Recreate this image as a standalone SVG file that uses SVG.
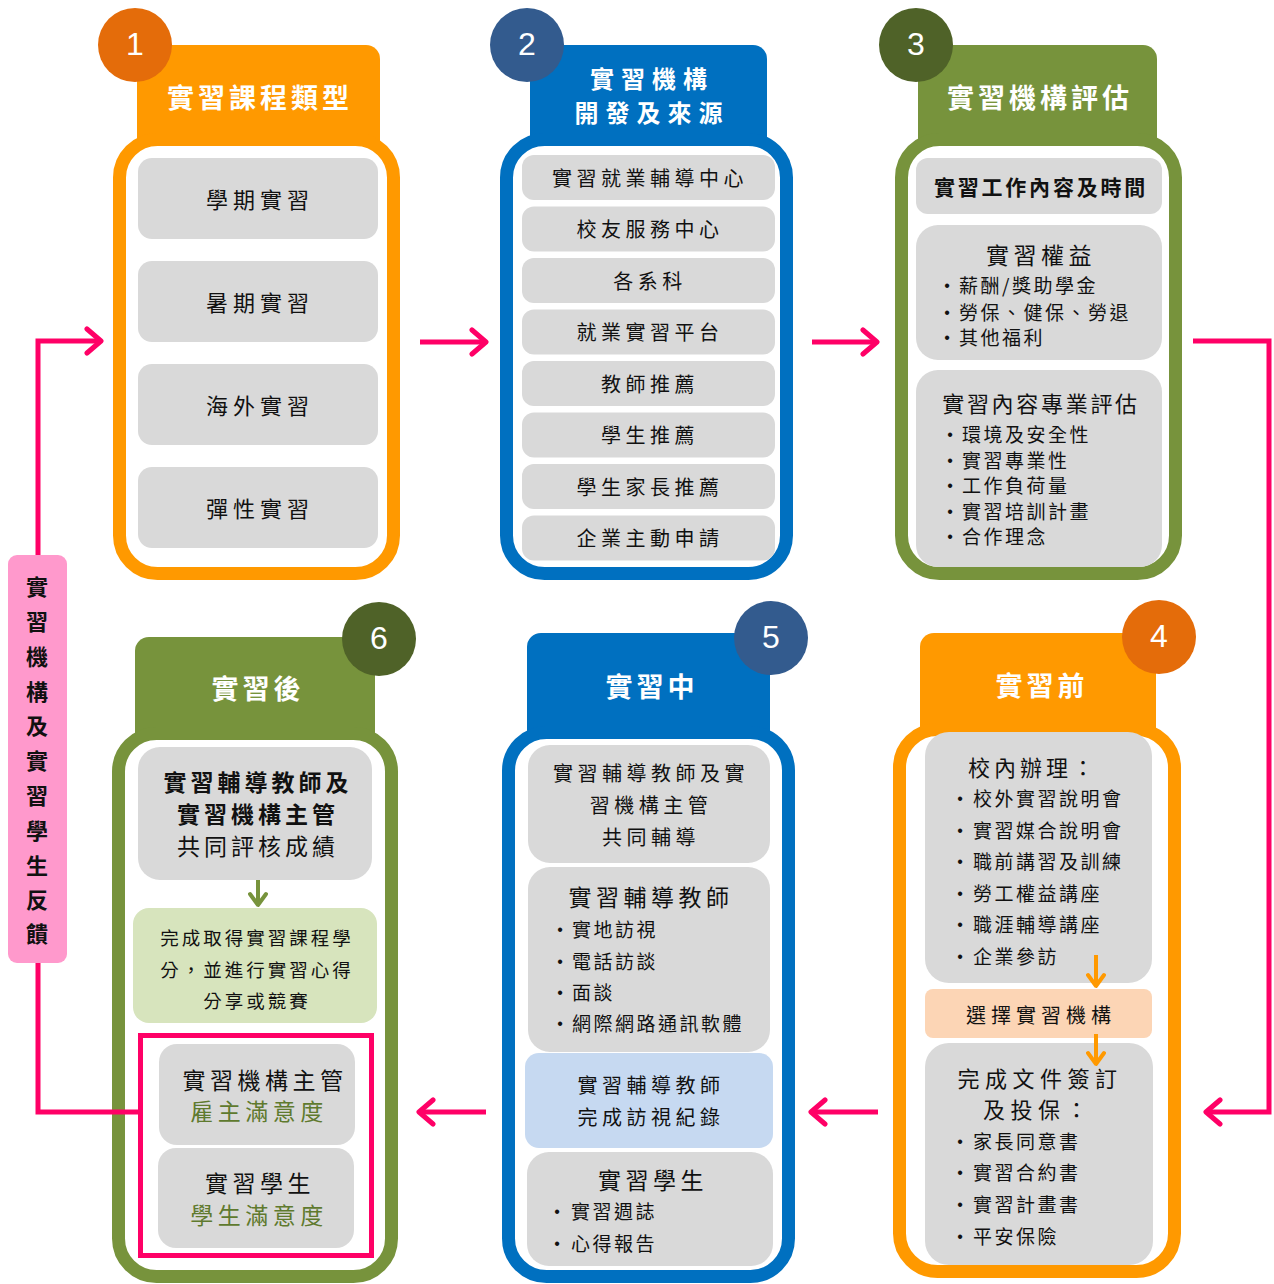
<svg xmlns="http://www.w3.org/2000/svg" width="1274" height="1284" viewBox="0 0 1274 1284">
<style>
.t{font-family:"Noto Sans CJK TC","Noto Sans CJK SC",sans-serif;dominant-baseline:central;fill:#111}
.hd{fill:#fff;font-size:27px;font-weight:bold;letter-spacing:4px;text-anchor:middle}
.num{font-family:"Liberation Sans",sans-serif;font-size:32px;fill:#fff;text-anchor:middle;dominant-baseline:central}
.c{text-anchor:middle}
.i1{font-size:22px;letter-spacing:5px}
.i2{font-size:20px;letter-spacing:4.5px}
.tt{font-size:23px;letter-spacing:4.5px}
.b{font-size:19px;letter-spacing:2.5px}
.dot{font-family:"Liberation Sans",sans-serif;font-size:16px;fill:#111;text-anchor:middle;dominant-baseline:central}
.bd{font-weight:bold}
.gr{fill:#5F7A2E}
.gbox{fill:#D9D9D9}
.or{fill:#FF9900}.orS{stroke:#FF9900}
.bl{fill:#0070C0}.blS{stroke:#0070C0}
.gn{fill:#77933C}.gnS{stroke:#77933C}
.body{fill:#fff;stroke-width:13}
.con{fill:none;stroke:#FF0066;stroke-width:5;marker-end:url(#ah)}
</style>
<defs>
<marker id="ah" viewBox="0 0 22 30" refX="18" refY="15" markerWidth="22" markerHeight="30" markerUnits="userSpaceOnUse" orient="auto">
<path d="M4,3 L18,15 L4,27" fill="none" stroke="#FF0066" stroke-width="5" stroke-linecap="round" stroke-linejoin="round"/>
</marker>
<marker id="ahO" viewBox="0 0 20 20" refX="15" refY="10" markerWidth="20" markerHeight="20" markerUnits="userSpaceOnUse" orient="auto">
<path d="M4,2 L15,10 L4,18" fill="none" stroke="#FF9900" stroke-width="4" stroke-linecap="round" stroke-linejoin="round"/>
</marker>
<marker id="ahG" viewBox="0 0 20 20" refX="15" refY="10" markerWidth="20" markerHeight="20" markerUnits="userSpaceOnUse" orient="auto">
<path d="M4,2 L15,10 L4,18" fill="none" stroke="#77933C" stroke-width="4" stroke-linecap="round" stroke-linejoin="round"/>
</marker>
</defs>
<rect width="1274" height="1284" fill="#fff"/>

<!-- Panel 1 -->
<g id="node1">
<rect class="or" x="137" y="45" width="243" height="120" rx="14"/>
<rect class="body orS" x="119.5" y="139.5" width="274" height="434" rx="38"/>
<text class="t hd" x="260" y="96">實習課程類型</text>
<rect class="gbox" x="138" y="158" width="240" height="81" rx="14"/>
<rect class="gbox" x="138" y="261" width="240" height="81" rx="14"/>
<rect class="gbox" x="138" y="364" width="240" height="81" rx="14"/>
<rect class="gbox" x="138" y="467" width="240" height="81" rx="14"/>
<text class="t i1 c" x="260" y="198">學期實習</text>
<text class="t i1 c" x="260" y="301">暑期實習</text>
<text class="t i1 c" x="260" y="404">海外實習</text>
<text class="t i1 c" x="260" y="507">彈性實習</text>
<circle cx="135" cy="45" r="37" fill="#E46C0A"/>
<text class="num" x="135" y="44">1</text>
</g>

<!-- Panel 2 -->
<g id="node2">
<rect class="bl" x="530" y="45" width="237" height="120" rx="14"/>
<rect class="body blS" x="506.5" y="139.5" width="280" height="434" rx="38"/>
<text class="t hd" x="652" y="77.5" style="font-size:24px;letter-spacing:7px">實習機構</text>
<text class="t hd" x="652" y="111" style="font-size:24px;letter-spacing:7px">開發及來源</text>
<rect class="gbox" x="522" y="155" width="253" height="45" rx="12"/>
<rect class="gbox" x="522" y="206.5" width="253" height="45" rx="12"/>
<rect class="gbox" x="522" y="258" width="253" height="45" rx="12"/>
<rect class="gbox" x="522" y="309.5" width="253" height="45" rx="12"/>
<rect class="gbox" x="522" y="361" width="253" height="45" rx="12"/>
<rect class="gbox" x="522" y="412.5" width="253" height="45" rx="12"/>
<rect class="gbox" x="522" y="464" width="253" height="45" rx="12"/>
<rect class="gbox" x="522" y="515.5" width="253" height="45" rx="12"/>
<text class="t i2 c" x="650" y="177">實習就業輔導中心</text>
<text class="t i2 c" x="650" y="228.5">校友服務中心</text>
<text class="t i2 c" x="650" y="280">各系科</text>
<text class="t i2 c" x="650" y="331.5">就業實習平台</text>
<text class="t i2 c" x="650" y="383">教師推薦</text>
<text class="t i2 c" x="650" y="434.5">學生推薦</text>
<text class="t i2 c" x="650" y="486">學生家長推薦</text>
<text class="t i2 c" x="650" y="537.5">企業主動申請</text>
<circle cx="527" cy="45" r="37" fill="#335B8E"/>
<text class="num" x="527" y="44">2</text>
</g>

<!-- Panel 3 -->
<g id="node3">
<rect class="gn" x="918" y="45" width="239" height="120" rx="14"/>
<rect class="body gnS" x="901.5" y="139.5" width="274" height="434" rx="38"/>
<text class="t hd" x="1040" y="96">實習機構評估</text>
<rect class="gbox" x="916" y="158" width="246" height="56" rx="12"/>
<rect class="gbox" x="916" y="225" width="246" height="135" rx="22"/>
<rect class="gbox" x="916" y="370" width="246" height="197" rx="22"/>
<text class="t bd c" x="1041" y="186" style="font-size:21px;letter-spacing:2.8px">實習工作內容及時間</text>
<text class="t tt c" x="1041" y="254">實習權益</text>
<text class="dot" x="947" y="285">•</text><text class="t b" x="959" y="284">薪酬/獎助學金</text>
<text class="dot" x="947" y="312">•</text><text class="t b" x="959" y="311">勞保、健保、勞退</text>
<text class="dot" x="947" y="337">•</text><text class="t b" x="959" y="336">其他福利</text>
<text class="t c" x="1041" y="402" style="font-size:22px;letter-spacing:2.7px">實習內容專業評估</text>
<text class="dot" x="950" y="434">•</text><text class="t b" x="962" y="433">環境及安全性</text>
<text class="dot" x="950" y="460">•</text><text class="t b" x="962" y="459">實習專業性</text>
<text class="dot" x="950" y="485">•</text><text class="t b" x="962" y="484">工作負荷量</text>
<text class="dot" x="950" y="511">•</text><text class="t b" x="962" y="510">實習培訓計畫</text>
<text class="dot" x="950" y="536">•</text><text class="t b" x="962" y="535">合作理念</text>
<circle cx="916" cy="45" r="37" fill="#4F6228"/>
<text class="num" x="916" y="44">3</text>
</g>

<!-- Panel 4 -->
<g id="node4">
<rect class="or" x="920" y="633" width="236" height="120" rx="14"/>
<rect class="body orS" x="899.5" y="729.5" width="275" height="542" rx="38"/>
<text class="t hd" x="1042" y="684">實習前</text>
<rect class="gbox" x="925" y="732" width="227" height="251" rx="24"/>
<rect x="925" y="989" width="227" height="49" rx="8" fill="#FCD5B5"/>
<rect class="gbox" x="925" y="1043" width="228" height="222" rx="24"/>
<text class="t" x="968" y="766" style="font-size:22px;letter-spacing:4px">校內辦理：</text>
<text class="dot" x="960" y="798">•</text><text class="t b" x="973" y="797">校外實習說明會</text>
<text class="dot" x="960" y="830">•</text><text class="t b" x="973" y="829">實習媒合說明會</text>
<text class="dot" x="960" y="861">•</text><text class="t b" x="973" y="860">職前講習及訓練</text>
<text class="dot" x="960" y="893">•</text><text class="t b" x="973" y="892">勞工權益講座</text>
<text class="dot" x="960" y="924">•</text><text class="t b" x="973" y="923">職涯輔導講座</text>
<text class="dot" x="960" y="956">•</text><text class="t b" x="973" y="955">企業參訪</text>
<text class="t i2 c" x="1041" y="1014" style="letter-spacing:5px">選擇實習機構</text>
<text class="t c" x="1040" y="1077" style="font-size:22px;letter-spacing:5.5px">完成文件簽訂</text>
<text class="t c" x="1038" y="1108" style="font-size:22px;letter-spacing:5.5px">及投保：</text>
<text class="dot" x="960" y="1141">•</text><text class="t b" x="973" y="1140">家長同意書</text>
<text class="dot" x="960" y="1172">•</text><text class="t b" x="973" y="1171">實習合約書</text>
<text class="dot" x="960" y="1204">•</text><text class="t b" x="973" y="1203">實習計畫書</text>
<text class="dot" x="960" y="1236">•</text><text class="t b" x="973" y="1235">平安保險</text>
<path d="M1096,955 V986" fill="none" stroke="#FF9900" stroke-width="4" marker-end="url(#ahO)"/>
<path d="M1096,1034 V1064" fill="none" stroke="#FF9900" stroke-width="4" marker-end="url(#ahO)"/>
<circle cx="1159" cy="637" r="37" fill="#E46C0A"/>
<text class="num" x="1159" y="636">4</text>
</g>

<!-- Panel 5 -->
<g id="node5">
<rect class="bl" x="527" y="633" width="243" height="120" rx="14"/>
<rect class="body blS" x="508.5" y="732.5" width="280" height="544" rx="38"/>
<text class="t hd" x="652" y="685">實習中</text>
<rect class="gbox" x="528" y="745" width="242" height="118" rx="22"/>
<rect class="gbox" x="528" y="867" width="242" height="185" rx="22"/>
<rect x="525" y="1053" width="248" height="95" rx="14" fill="#C6D9F1"/>
<rect class="gbox" x="527" y="1152" width="246" height="114" rx="22"/>
<text class="t i2 c" x="651" y="772">實習輔導教師及實</text>
<text class="t i2 c" x="651" y="804">習機構主管</text>
<text class="t i2 c" x="651" y="836">共同輔導</text>
<text class="t tt c" x="651" y="896">實習輔導教師</text>
<text class="dot" x="560" y="929">•</text><text class="t b" x="572" y="928">實地訪視</text>
<text class="dot" x="560" y="961">•</text><text class="t b" x="572" y="960">電話訪談</text>
<text class="dot" x="560" y="992">•</text><text class="t b" x="572" y="991">面談</text>
<text class="dot" x="560" y="1023">•</text><text class="t b" x="572" y="1022">網際網路通訊軟體</text>
<text class="t i2 c" x="651" y="1084">實習輔導教師</text>
<text class="t i2 c" x="651" y="1116">完成訪視紀錄</text>
<text class="t tt c" x="653" y="1179">實習學生</text>
<text class="dot" x="557" y="1211">•</text><text class="t b" x="571" y="1210">實習週誌</text>
<text class="dot" x="557" y="1243">•</text><text class="t b" x="571" y="1242">心得報告</text>
<circle cx="771" cy="638" r="37" fill="#335B8E"/>
<text class="num" x="771" y="637">5</text>
</g>

<!-- Panel 6 -->
<g id="node6">
<rect class="gn" x="135" y="637" width="240" height="120" rx="14"/>
<rect class="body gnS" x="118.5" y="733.5" width="273" height="543" rx="38"/>
<text class="t hd" x="258" y="687">實習後</text>
<rect class="gbox" x="138" y="747" width="234" height="133" rx="22"/>
<rect x="133" y="908" width="244" height="115" rx="16" fill="#D7E4BD"/>
<text class="t tt bd c" x="258" y="781" style="letter-spacing:4px">實習輔導教師及</text>
<text class="t tt bd c" x="258" y="813" style="letter-spacing:4px">實習機構主管</text>
<text class="t tt c" x="258" y="845" style="letter-spacing:4px">共同評核成績</text>
<path d="M258,880 V905" fill="none" stroke="#77933C" stroke-width="4" marker-end="url(#ahG)"/>
<text class="t c" x="257" y="937" style="font-size:18.5px;letter-spacing:3px">完成取得實習課程學</text>
<text class="t c" x="257" y="969" style="font-size:18.5px;letter-spacing:3px">分，並進行實習心得</text>
<text class="t c" x="257" y="1000" style="font-size:18.5px;letter-spacing:3px">分享或競賽</text>
<rect x="140.5" y="1035.5" width="231" height="220" fill="#fff" stroke="#FF0066" stroke-width="5"/>
<rect class="gbox" x="159" y="1044" width="196" height="101" rx="18"/>
<rect class="gbox" x="158" y="1148" width="196" height="100" rx="18"/>
<text class="t tt c" x="265" y="1079">實習機構主管</text>
<text class="t tt c gr" x="259" y="1110">雇主滿意度</text>
<text class="t tt c" x="260" y="1182">實習學生</text>
<text class="t tt c gr" x="259" y="1214">學生滿意度</text>
<circle cx="379" cy="639" r="37" fill="#4F6228"/>
<text class="num" x="379" y="638">6</text>
</g>

<!-- Connectors -->
<g id="connectors">
<path class="con" d="M420,342 H486"/>
<path class="con" d="M812,342 H877"/>
<path class="con" d="M1193,341 H1269 V1112 H1206"/>
<path class="con" d="M878,1112 H811"/>
<path class="con" d="M486,1112 H419"/>
<path class="con" d="M138,1112 H38 V341 H101"/>
</g>

<g id="feedback-label">
<rect x="8" y="555" width="59" height="408" rx="9" fill="#FF99CC"/>
<text class="t" style="font-size:22px;font-weight:bold;text-anchor:middle">
<tspan x="37" y="585">實</tspan><tspan x="37" y="620">習</tspan><tspan x="37" y="655">機</tspan><tspan x="37" y="690">構</tspan><tspan x="37" y="724">及</tspan><tspan x="37" y="759">實</tspan><tspan x="37" y="794">習</tspan><tspan x="37" y="829">學</tspan><tspan x="37" y="864">生</tspan><tspan x="37" y="898">反</tspan><tspan x="37" y="932">饋</tspan>
</text>
</g>
</svg>
